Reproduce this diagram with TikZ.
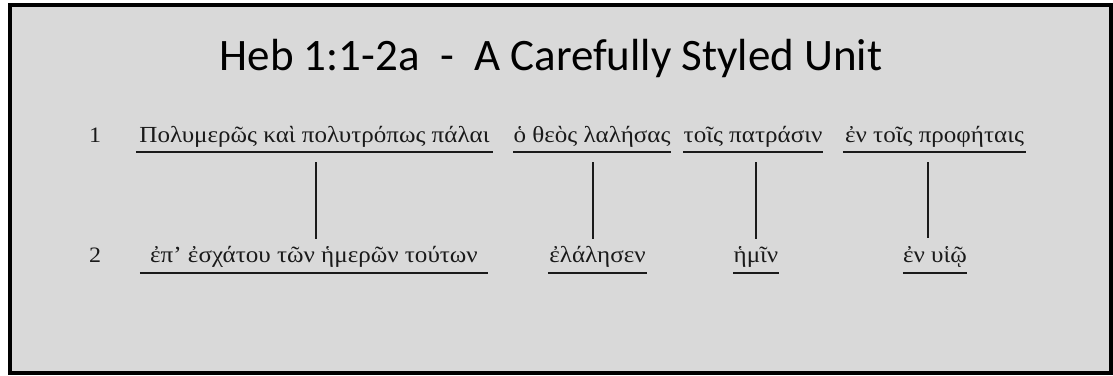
\documentclass[tikz,border=0pt]{standalone}
\usepackage{fontspec}
\usetikzlibrary{calc}
\setmainfont{Liberation Serif}
\newfontfamily\greekfont[FakeStretch=1.09]{Liberation Serif}
\newfontfamily\titlefont{Carlito}
\definecolor{panel}{HTML}{D9D9D9}
\definecolor{ink}{HTML}{1A1A1A}
\begin{document}
\begin{tikzpicture}[x=1pt,y=-1pt,
  greek/.style={anchor=base, inner sep=0pt, text=ink, font=\greekfont\fontsize{23}{28}\selectfont},
  num/.style={anchor=base, inner sep=0pt, text=ink, font=\greekfont\fontsize{22}{26}\selectfont},
  uline/.style={line width=2.6pt, ink},
  link/.style={line width=2.6pt, ink}]
\useasboundingbox (0,0) rectangle (1113,375);
\fill[white] (0,0) rectangle (1113,375);
\draw[line width=4pt, fill=panel] (10,5) rectangle (1111,373);

% heading
\node[anchor=base, inner sep=0pt, text=black, font=\titlefont\fontsize{45}{52}\selectfont]
  (title) at (551,70) {Heb 1:1-2a\ \ -\ \ A Carefully Styled Unit};

% line numbers
\node[num] (n1) at (95,142) {1};
\node[num] (n2) at (95,262) {2};

% first line
\node[greek, minimum width=357pt] (a1) at (314.5,142) {Πολυμερῶς καὶ πολυτρόπως πάλαι};
\node[greek, minimum width=152pt] (a2) at (592,142) {ὁ θεὸς λαλήσας};
\node[greek, minimum width=132pt] (a3) at (753,142) {τοῖς πατράσιν};
\node[greek, minimum width=183pt] (a4) at (934.5,142) {ἐν τοῖς προφήταις};

% second line
\node[greek, minimum width=348pt] (b1) at (314,262) {ἐπ’ ἐσχάτου τῶν ἡμερῶν τούτων};
\node[greek, minimum width=99pt] (b2) at (597.5,262) {ἐλάλησεν};
\node[greek, minimum width=44pt] (b3) at (756,262) {ἡμῖν};
\node[greek, minimum width=64pt] (b4) at (935,262) {ἐν υἱῷ};

% underlines
\foreach \n in {a1,a2,a3,a4}
  \draw[uline] ($(\n.base west)+(0,10)$) -- ($(\n.base east)+(0,10)$);
\foreach \n in {b1,b2,b3,b4}
  \draw[uline] ($(\n.base west)+(0,11)$) -- ($(\n.base east)+(0,11)$);

% connectors between the two lines
\draw[link] ($(a1.base)+(1.5,20)$) -- ($(a1.base |- b1.base)+(1.5,-23)$);
\draw[link] ($(a2.base)+(1,20)$) -- ($(a2.base |- b2.base)+(1,-23)$);
\draw[link] ($(a3.base)+(3,20)$) -- ($(a3.base |- b3.base)+(3,-23)$);
\draw[link] ($(a4.base)+(-6.5,20)$) -- ($(a4.base |- b4.base)+(-6.5,-24)$);
\end{tikzpicture}
\end{document}
